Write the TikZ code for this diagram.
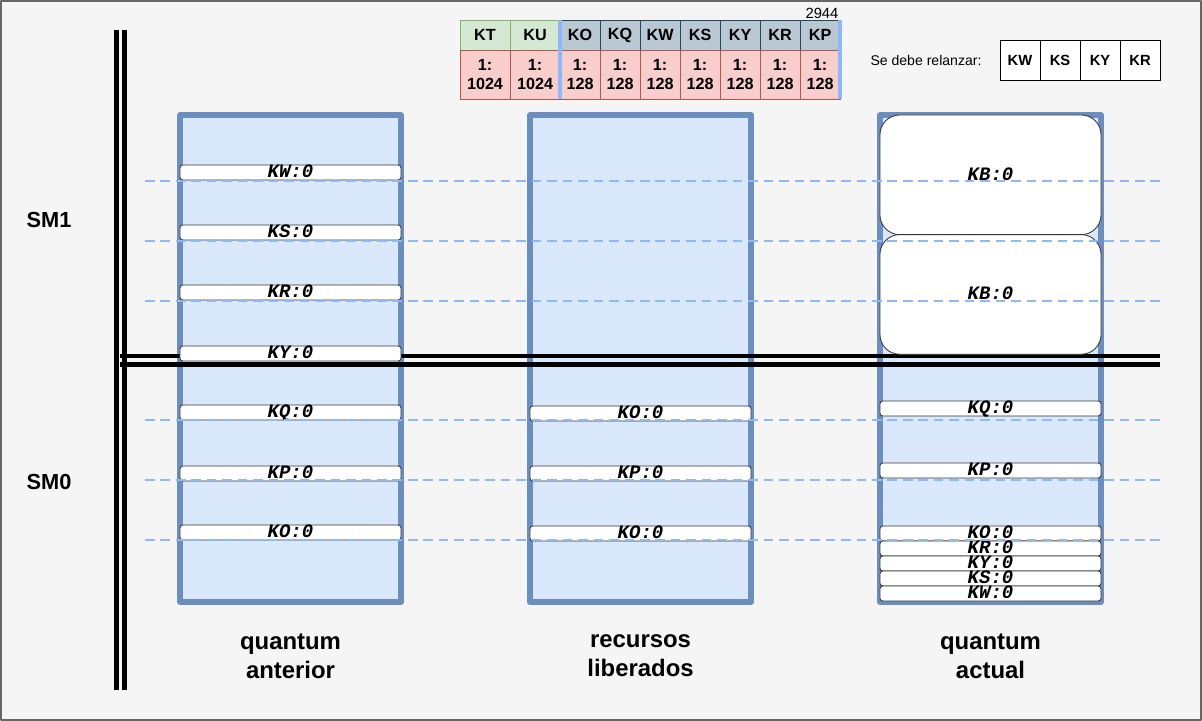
\documentclass[tikz,border=0pt]{standalone}
\usepackage{fontspec}
\setmainfont{Liberation Sans}
\newfontfamily\codefont{Liberation Mono}
\usetikzlibrary{positioning}
\definecolor{colfill}{HTML}{DAE8FC}
\definecolor{colline}{HTML}{6C8EBF}
\definecolor{sepblue}{HTML}{8FB8F8}
\definecolor{hdrgreen}{HTML}{D5E8D4}
\definecolor{hdrgreenline}{HTML}{82B366}
\definecolor{hdrgrey}{HTML}{BAC8D3}
\definecolor{hdrgreyline}{HTML}{23445D}
\definecolor{valred}{HTML}{F8CECC}
\definecolor{valredline}{HTML}{B85450}
\definecolor{bgpage}{HTML}{F5F5F5}
\definecolor{bgline}{HTML}{666666}
\begin{document}
\begin{tikzpicture}[x=0.025cm,y=-0.025cm,line join=round,
    quantum/.style={draw=colline,fill=colfill,line width=3.8pt,minimum width=5.525cm,minimum height=12.175cm,inner sep=0pt},
    slot/.style={draw=black!80,fill=white,line width=0.6pt,rounded corners=2pt,minimum width=5.525cm,minimum height=0.375cm,
        inner sep=0pt,outer sep=0pt,text height=7.4pt,text depth=0pt,font=\codefont\bfseries\itshape\fontsize{13.5}{14}\selectfont},
    bigslot/.style={slot,rounded corners=14pt,minimum height=2.99cm},
    sep/.style={sepblue,line width=2pt,dash pattern=on 6.8pt off 4.2pt},
    wall/.style={black,line width=3.4pt},
    cell/.style={draw,line width=0.6pt,inner sep=0pt,outer sep=0pt,font=\bfseries\fontsize{11.5}{13.5}\selectfont,align=center},
    hdrg/.style={cell,draw=hdrgreenline,fill=hdrgreen,minimum width=1.25cm,minimum height=0.75cm},
    hdrb/.style={cell,draw=hdrgreyline,fill=hdrgrey,minimum width=1cm,minimum height=0.75cm},
    valw/.style={cell,draw=valredline,fill=valred,minimum width=1.25cm,minimum height=1.225cm},
    valn/.style={cell,draw=valredline,fill=valred,minimum width=1cm,minimum height=1.225cm},
    relbox/.style={cell,draw=black,fill=white,minimum width=1cm,minimum height=1cm,font=\bfseries\fontsize{10.5}{12}\selectfont},
    title/.style={align=center,font=\bfseries\fontsize{17}{20.5}\selectfont},
    smlabel/.style={font=\bfseries\fontsize{15.5}{18}\selectfont}]
  % fondo
  \useasboundingbox (0,0) rectangle (1202,721);
  \draw[fill=bgpage,draw=bgline,line width=1.4pt] (1,1) rectangle (1201,720);
  % columnas
  \node[quantum] (qant) at (290.5,358.5) {};
  \node[quantum] (qlib) at (640.5,358.5) {};
  \node[quantum] (qact) at (990.5,358.5) {};
  % SM0 / SM1
  \draw[wall] (116.5,30) -- (116.5,690);
  \draw[wall] (124.5,30) -- (124.5,690);
  \draw[wall,line width=3.2pt] (120,356) -- (1160,356);
  \draw[wall,line width=3.2pt] (120,364.5) -- (1160,364.5);
  % quantum anterior
  \foreach \k/\y in {KW/180,KS/240,KR/300,KY/361,KQ/420,KP/481,KO/540}
    \node[slot,anchor=south] (a\k) at (290.5,\y) {\k:0};
  % recursos liberados
  \foreach \k/\y [count=\i] in {KO/421,KP/481,KO/541}
    \node[slot,anchor=south] (b\i) at (640.5,\y) {\k:0};
  % quantum actual
  \node[bigslot,anchor=north] (cB1) at (990.5,115) {KB:0};
  \node[bigslot,below=0pt of cB1] (cB2) {KB:0};
  \node[slot,anchor=south] (cQ) at (990.5,416) {KQ:0};
  \node[slot,anchor=south] (cP) at (990.5,478) {KP:0};
  \node[slot,anchor=south] (cO) at (990.5,541) {KO:0};
  \node[slot,below=0pt of cO] (cR) {KR:0};
  \node[slot,below=0pt of cR] (cY) {KY:0};
  \node[slot,below=0pt of cY] (cS) {KS:0};
  \node[slot,below=0pt of cS] (cW) {KW:0};
  % lineas de SM
  \foreach \y in {181,241,301,420,480,540}
    \draw[sep] (145,\y) -- (1160,\y);
  % tabla
  \node[hdrg] (hKT) at (485,35) {KT};
  \node[hdrg,right=0pt of hKT] (hKU) {KU};
  \foreach \k [remember=\k as \prev (initially KU)] in {KO,KQ,KW,KS,KY,KR,KP}
    \node[hdrb,right=0pt of h\prev] (h\k) {\k};
  \foreach \k in {KT,KU}
    \node[valw,below=0pt of h\k] (v\k) {1:\\1024};
  \foreach \k in {KO,KQ,KW,KS,KY,KR,KP}
    \node[valn,below=0pt of h\k] (v\k) {1:\\128};
  \draw[sepblue,line width=3pt] (hKO.north west) -- (vKO.south west);
  \draw[sepblue,line width=3pt] (hKP.north east) -- (vKP.south east);
  \node[anchor=south east,inner sep=1pt,font=\fontsize{10.5}{12}\selectfont] (total) at (hKP.north east) {2944};
  % relanzar
  \node[font=\fontsize{10}{12}\selectfont] (rl) at (926,60) {Se debe relanzar:};
  \node[relbox] (rKW) at (1020,60) {KW};
  \node[relbox,right=0pt of rKW] (rKS) {KS};
  \node[relbox,right=0pt of rKS] (rKY) {KY};
  \node[relbox,right=0pt of rKY] (rKR) {KR};
  % textos
  \node[smlabel] (sm1) at (49,220) {SM1};
  \node[smlabel] (sm0) at (49,482) {SM0};
  \node[title] (tant) at (290.5,656) {quantum\\anterior};
  \node[title] (tlib) at (640.5,656) {recursos\\liberados};
  \node[title] (tact) at (990.5,656) {quantum\\actual};
\end{tikzpicture}
\end{document}
